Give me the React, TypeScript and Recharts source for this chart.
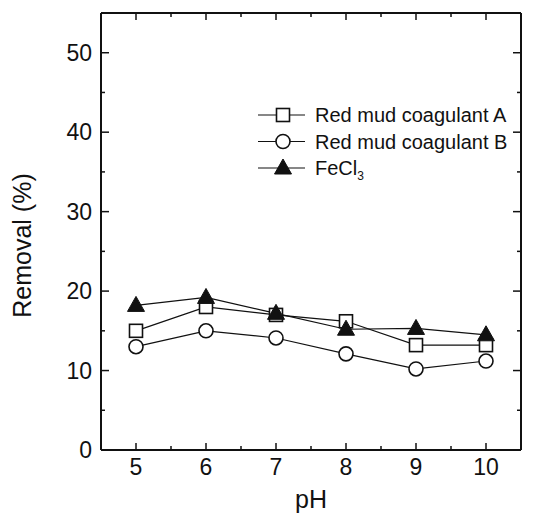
import { LineChart, Line, XAxis, YAxis, Legend } from 'recharts';

const phValues = [5, 6, 7, 8, 9, 10];
const coagulantA = [15, 18, 17, 16.2, 13.2, 13.2];
const coagulantB = [13, 15, 14.1, 12.1, 10.2, 11.2];
const ferricChloride = [18.2, 19.2, 17.2, 15.2, 15.3, 14.5];

const xTicks = [5, 5.5, 6, 6.5, 7, 7.5, 8, 8.5, 9, 9.5, 10];
const yTicks = [0, 5, 10, 15, 20, 25, 30, 35, 40, 45, 50];

const data = phValues.map((ph, i) => ({
  ph,
  a: coagulantA[i],
  b: coagulantB[i],
  fe: ferricChloride[i],
}));

const FONT = '"Liberation Sans", Arial, sans-serif';
const INK = '#111';

type Marker = 'square' | 'circle' | 'triangle';

function markerShape(kind: Marker, cx: number, cy: number) {
  if (kind === 'square') {
    return <rect x={cx - 6.5} y={cy - 6.5} width={13} height={13} fill="#fff" stroke={INK} strokeWidth={1.6} />;
  }
  if (kind === 'circle') {
    return <circle cx={cx} cy={cy} r={7} fill="#fff" stroke={INK} strokeWidth={1.6} />;
  }
  return <polygon points={`${cx},${cy - 9} ${cx - 8.5},${cy + 6} ${cx + 8.5},${cy + 6}`} fill={INK} stroke={INK} strokeWidth={1} />;
}

const makeDot = (kind: Marker) => (props: any) => {
  const { cx, cy, index } = props;
  return <g key={`${kind}-${index}`}>{markerShape(kind, cx, cy)}</g>;
};

// ticks point into the plot; labels only on the bottom/left majors
const BottomTick = (props: any) => {
  const { x, y, payload } = props;
  const major = Number.isInteger(payload.value);
  return (
    <g>
      <line x1={x} x2={x} y1={y} y2={y - (major ? 7 : 4)} stroke={INK} strokeWidth={1.5} />
      {major && (
        <text x={x} y={y + 25} textAnchor="middle" fontSize={23} fontFamily={FONT} fill={INK}>
          {payload.value}
        </text>
      )}
    </g>
  );
};

const TopTick = (props: any) => {
  const { x, y, payload } = props;
  const major = Number.isInteger(payload.value);
  return <line x1={x} x2={x} y1={y} y2={y + (major ? 7 : 4)} stroke={INK} strokeWidth={1.5} />;
};

const LeftTick = (props: any) => {
  const { x, y, payload } = props;
  const major = payload.value % 10 === 0;
  return (
    <g>
      <line x1={x} x2={x + (major ? 8 : 4)} y1={y} y2={y} stroke={INK} strokeWidth={1.5} />
      {major && (
        <text x={x - 9} y={y + 8} textAnchor="end" fontSize={23} fontFamily={FONT} fill={INK}>
          {payload.value}
        </text>
      )}
    </g>
  );
};

const RightTick = (props: any) => {
  const { x, y, payload } = props;
  const major = payload.value % 10 === 0;
  return <line x1={x} x2={x - (major ? 8 : 4)} y1={y} y2={y} stroke={INK} strokeWidth={1.5} />;
};

const legendRows: { kind: Marker; label: string; sub?: string }[] = [
  { kind: 'square', label: 'Red mud coagulant A' },
  { kind: 'circle', label: 'Red mud coagulant B' },
  { kind: 'triangle', label: 'FeCl', sub: '3' },
];

const LegendBox = () => (
  <svg width={275} height={90}>
    {legendRows.map((row, i) => {
      const cy = 15 + i * 26.5;
      return (
        <g key={row.label}>
          <line x1={8} x2={55} y1={cy} y2={cy} stroke={INK} strokeWidth={1.2} />
          {markerShape(row.kind, 33, cy)}
          <text x={65} y={cy + 7} fontSize={20} fontFamily={FONT} fill={INK}>
            {row.label}
            {row.sub && (
              <tspan fontSize={12} dy={5}>
                {row.sub}
              </tspan>
            )}
          </text>
        </g>
      );
    })}
  </svg>
);

const yTitle = (props: any) => {
  const vb = props.viewBox;
  const x = vb.x + 31;
  const y = vb.y + vb.height / 2 + 14;
  return (
    <text x={x} y={y} transform={`rotate(-90, ${x}, ${y})`} textAnchor="middle" fontSize={25} fontFamily={FONT} fill={INK}>
      Removal (%)
    </text>
  );
};

const xTitle = (props: any) => {
  const vb = props.viewBox;
  return (
    <text x={vb.x + vb.width / 2} y={vb.y + 58} textAnchor="middle" fontSize={25} fontFamily={FONT} fill={INK}>
      pH
    </text>
  );
};

export default function App() {
  return (
    <div style={{ position: 'absolute', left: 0, top: 0, background: '#fff' }}>
      <LineChart width={545} height={520} data={data} margin={{ top: 12, right: 23, left: 0, bottom: 0 }}>
        <XAxis
          dataKey="ph"
          type="number"
          domain={[4.5, 10.5]}
          ticks={xTicks}
          interval={0}
          height={70}
          tickSize={0}
          tickMargin={0}
          tickLine={false}
          tick={BottomTick}
          axisLine={{ stroke: INK, strokeWidth: 2 }}
          label={xTitle}
        />
        <XAxis
          xAxisId="top"
          orientation="top"
          dataKey="ph"
          type="number"
          domain={[4.5, 10.5]}
          ticks={xTicks}
          interval={0}
          height={1}
          tickSize={0}
          tickMargin={0}
          tickLine={false}
          tick={TopTick}
          axisLine={{ stroke: INK, strokeWidth: 2 }}
        />
        <YAxis
          type="number"
          domain={[0, 55]}
          ticks={yTicks}
          interval={0}
          width={101}
          tickSize={0}
          tickMargin={0}
          tickLine={false}
          tick={LeftTick}
          axisLine={{ stroke: INK, strokeWidth: 2 }}
          label={yTitle}
        />
        <YAxis
          yAxisId="right"
          orientation="right"
          type="number"
          domain={[0, 55]}
          ticks={yTicks}
          interval={0}
          width={1}
          tickSize={0}
          tickMargin={0}
          tickLine={false}
          tick={RightTick}
          axisLine={{ stroke: INK, strokeWidth: 2 }}
        />
        <Legend
          layout="vertical"
          align="center"
          verticalAlign="middle"
          content={LegendBox}
          wrapperStyle={{ left: 250, top: 100, width: 275 }}
        />
        {/* invisible copy bound to the mirror axes so the top/right frame gets drawn */}
        <Line xAxisId="top" yAxisId="right" dataKey="a" stroke="none" dot={false} activeDot={false} legendType="none" isAnimationActive={false} />
        <Line dataKey="b" name="Red mud coagulant B" stroke={INK} strokeWidth={1.2} dot={makeDot('circle')} activeDot={false} isAnimationActive={false} />
        <Line dataKey="a" name="Red mud coagulant A" stroke={INK} strokeWidth={1.2} dot={makeDot('square')} activeDot={false} isAnimationActive={false} />
        <Line dataKey="fe" name="FeCl3" stroke={INK} strokeWidth={1.2} dot={makeDot('triangle')} activeDot={false} isAnimationActive={false} />
      </LineChart>
    </div>
  );
}
